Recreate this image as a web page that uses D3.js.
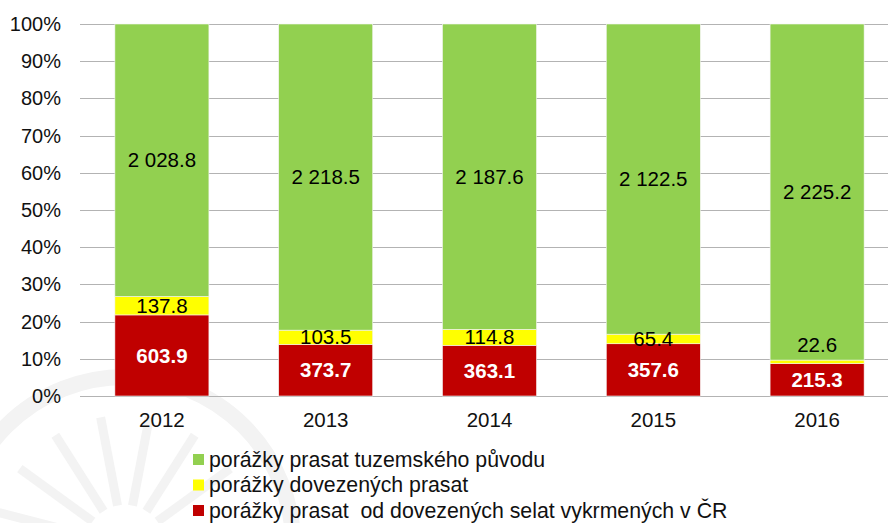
<!DOCTYPE html>
<html>
<head>
<meta charset="utf-8">
<script src="https://cdn.jsdelivr.net/npm/d3@7"></script>
<style>
  body { margin: 0; background: #fff; }
  text { font-family: "Liberation Sans", Arial, sans-serif; }
</style>
</head>
<body>
<div id="chart"></div>
<script>

// ======================= //
// DATA
// ======================= //

var years = ["2012", "2013", "2014", "2015", "2016"]
var redVals = [603.9, 373.7, 363.1, 357.6, 215.3]      // od dovezených selat vykrmených v ČR
var yellowVals = [137.8, 103.5, 114.8, 65.4, 22.6]     // dovezených prasat
var greenVals = [2028.8, 2218.5, 2187.6, 2122.5, 2225.2] // tuzemského původu
var yTicks = [0, 0.1, 0.2, 0.3, 0.4, 0.5, 0.6, 0.7, 0.8, 0.9, 1]
var legendNames = ["porážky prasat tuzemského původu", "porážky dovezených prasat", "porážky prasat  od dovezených selat vykrmených v ČR"]

var colors = { red: "#c00000", yellow: "#ffff00", green: "#92d050" }

// build stack table
var table = years.map(function(y, i){
  var tot = redVals[i] + yellowVals[i] + greenVals[i]
  return { year: y, red: redVals[i] / tot, yellow: yellowVals[i] / tot, green: greenVals[i] / tot,
           rawred: redVals[i], rawyellow: yellowVals[i], rawgreen: greenVals[i] }
})

// ======================= //
// SVG
// ======================= //

var W = 888, H = 523
var margin = {top: 24, left: 80, bottom: 127}

var svg = d3.select("#chart")
  .append("svg")
    .attr("width", W)
    .attr("height", H)

// faint watermark in the corner
var wm = svg.append("g").attr("fill", "none").attr("stroke", "#f3f3f3")
wm.append("circle").attr("cx", 125).attr("cy", 545).attr("r", 168).attr("stroke-width", 16)
d3.range(7).forEach(function(k){
  var a = Math.PI * (1.08 + k * 0.12)
  wm.append("line")
    .attr("x1", 125 + Math.cos(a) * 40).attr("y1", 545 + Math.sin(a) * 40)
    .attr("x2", 125 + Math.cos(a) * 130).attr("y2", 545 + Math.sin(a) * 130)
    .attr("stroke-width", 9)
})

// ======================= //
// SCALES AND AXES
// ======================= //

var x = d3.scaleBand()
  .domain(years)
  .range([margin.left, 899])
  .paddingInner(0.426)
  .paddingOuter(0.213)

var y = d3.scaleLinear()
  .domain([0, 1])
  .range([H - margin.bottom, margin.top])

// gridlines
svg.append("g")
  .selectAll("line")
  .data(yTicks)
  .enter()
  .append("line")
    .attr("x1", margin.left)
    .attr("x2", W)
    .attr("y1", function(d){ return Math.round(y(d)) + 0.5 })
    .attr("y2", function(d){ return Math.round(y(d)) + 0.5 })
    .attr("stroke", "#b3b3b3")
    .attr("stroke-width", 1)

// y tick labels
svg.append("g")
  .selectAll("text")
  .data(yTicks)
  .enter()
  .append("text")
    .attr("x", 61)
    .attr("y", function(d){ return y(d) })
    .attr("dy", "0.35em")
    .attr("text-anchor", "end")
    .style("font-size", "20px")
    .style("fill", "#111")
    .text(d3.format(".0%"))

// x labels
svg.append("g")
  .selectAll("text")
  .data(years)
  .enter()
  .append("text")
    .attr("x", function(d){ return x(d) + x.bandwidth() / 2 })
    .attr("y", 420)
    .attr("dy", "0.35em")
    .attr("text-anchor", "middle")
    .style("font-size", "20.5px")
    .style("fill", "#111")
    .text(function(d){ return d })

// ======================= //
// BARS
// ======================= //

var keys = ["red", "yellow", "green"]
var series = d3.stack().keys(keys)(table)

var layers = svg.append("g")
  .selectAll("g")
  .data(series)
  .enter()
  .append("g")
    .attr("fill", function(d){ return colors[d.key] })

layers.selectAll("rect")
  .data(function(d){ return d })
  .enter()
  .append("rect")
    .attr("x", function(d){ return x(d.data.year) })
    .attr("width", x.bandwidth())
    .attr("y", function(d){ return y(d[1]) })
    .attr("height", function(d){ return y(d[0]) - y(d[1]) })
    .attr("stroke", "#f4f4f4")
    .attr("stroke-width", 0.6)

// value labels (drawn after all bars so none gets covered)
var fmt = function(v){
  var s = v.toFixed(1).split(".")
  return s[0].replace(/\B(?=(\d{3})+(?!\d))/g, " ") + "." + s[1]
}

var labelLayers = svg.append("g")
  .selectAll("g")
  .data(series)
  .enter()
  .append("g")

labelLayers.each(function(s){
  d3.select(this).selectAll("text")
    .data(s)
    .enter()
    .append("text")
      .attr("x", function(d){ return x(d.data.year) + x.bandwidth() / 2 })
      .attr("y", function(d){
        var h = y(d[0]) - y(d[1])
        var mid = (y(d[0]) + y(d[1])) / 2
        return h < 8 ? mid - 17 : mid  // too thin: lift the label above
      })
      .attr("dy", "0.35em")
      .attr("text-anchor", "middle")
      .style("font-size", "20.5px")
      .style("font-weight", s.key == "red" ? "bold" : "normal")
      .style("fill", s.key == "red" ? "#fff" : "#000")
      .text(function(d){ return fmt(d.data["raw" + s.key]) })
})

// ======================= //
// LEGEND
// ======================= //

var legColors = [colors.green, colors.yellow, colors.red]
var leg = svg.append("g")
  .selectAll("g")
  .data(legendNames)
  .enter()
  .append("g")
    .attr("transform", function(d, i){ return "translate(193," + (459.5 + i * 25.5) + ")" })

leg.append("rect")
  .attr("x", 0).attr("y", -5.5)
  .attr("width", 11).attr("height", 11)
  .attr("fill", function(d, i){ return legColors[i] })

leg.append("text")
  .attr("x", 16)
  .attr("dy", "0.33em")
  .style("font-size", "21.3px")
  .style("fill", "#111")
  .style("white-space", "pre")
  .text(function(d){ return d })

</script>
</body>
</html>
